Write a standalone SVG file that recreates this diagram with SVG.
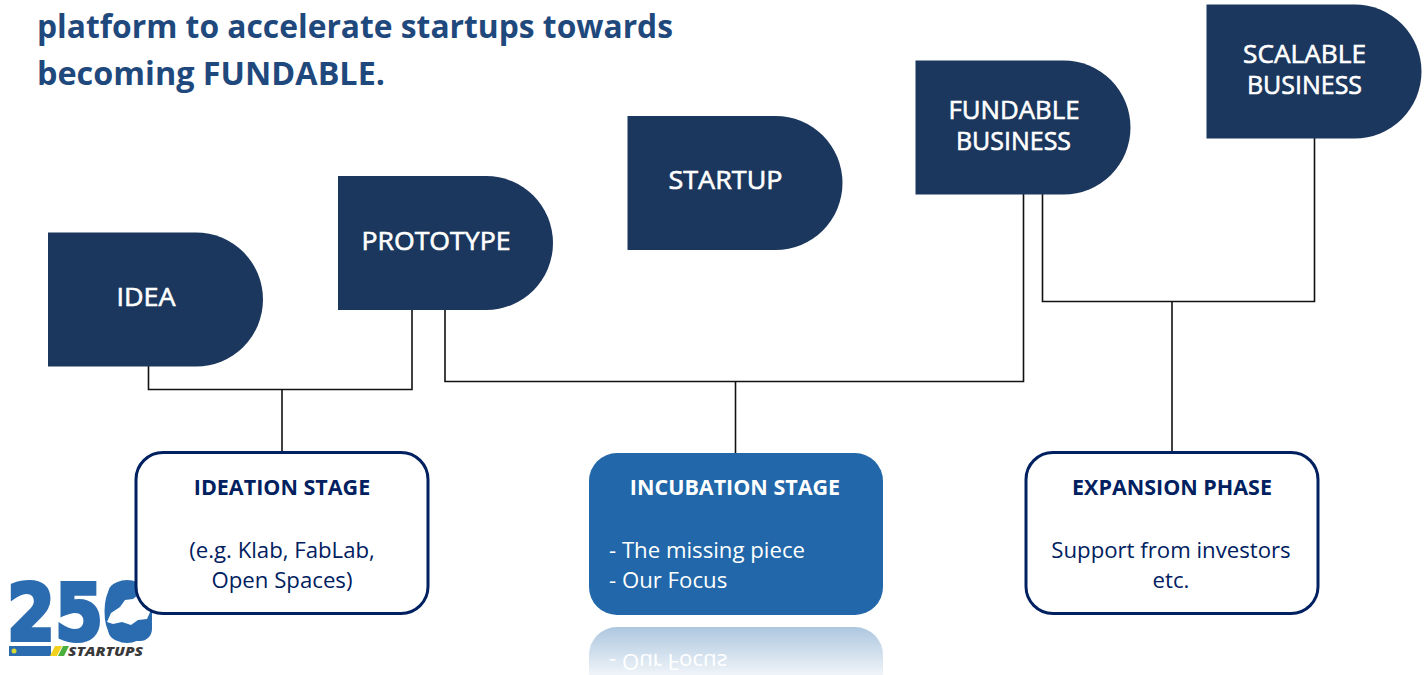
<svg xmlns="http://www.w3.org/2000/svg" width="1426" height="675" viewBox="0 0 1426 675">
<style>
text{font-family:"Open Sans","Noto Sans","Liberation Sans",sans-serif}
.title{font-size:32.5px;font-weight:700;fill:#1f497d}
.shape{fill:#1b375d}
.sl{font-size:26px;fill:#fff;text-anchor:middle;stroke:#fff;stroke-width:.6px}
.box{fill:#fff;stroke:#002060;stroke-width:3px}
.h{font-size:21.500px;font-weight:700;text-anchor:middle;fill:#002060}
.b{font-size:22.200px;text-anchor:middle;fill:#002060}
.wire{fill:none;stroke:#111;stroke-width:1.600px}
</style>
<defs>
<path id="d" d="M0 0H148a67 67 0 0 1 0 134H0Z"/>
<linearGradient id="fade" x1="0" y1="0" x2="0" y2="1"><stop offset="0" stop-color="#fff" stop-opacity=".62"/><stop offset="1" stop-color="#fff" stop-opacity=".93"/></linearGradient>
</defs>
<rect width="1426" height="675" fill="#fff"/>
<g id="title"><text class="title" x="37" y="38" textLength="636" lengthAdjust="spacingAndGlyphs">platform to accelerate startups towards</text><text class="title" x="37" y="85" textLength="348" lengthAdjust="spacingAndGlyphs">becoming FUNDABLE.</text></g>
<g id="connectors" class="wire">
<path d="M148.500 366V389.500H412V310"/><path d="M282 389.500V452"/>
<path d="M445 310V381.500H1023.500V194"/><path d="M735.500 381.500V454"/>
<path d="M1042.500 194V301.500H1314.500V138"/><path d="M1172 301.500V452"/>
</g>
<g id="idea"><use href="#d" class="shape" x="48" y="232.500"/><text class="sl" x="146" y="306" textLength="59" lengthAdjust="spacingAndGlyphs">IDEA</text></g>
<g id="prototype"><use href="#d" class="shape" x="338" y="176"/><text class="sl" x="436" y="250" textLength="149" lengthAdjust="spacingAndGlyphs">PROTOTYPE</text></g>
<g id="startup"><use href="#d" class="shape" x="627.500" y="116"/><text class="sl" x="725.500" y="189" textLength="114" lengthAdjust="spacingAndGlyphs">STARTUP</text></g>
<g id="fundable"><use href="#d" class="shape" x="915.500" y="60.500"/><text class="sl" x="1014" y="119" textLength="131" lengthAdjust="spacingAndGlyphs">FUNDABLE</text><text class="sl" x="1013.500" y="150" textLength="115" lengthAdjust="spacingAndGlyphs">BUSINESS</text></g>
<g id="scalable"><use href="#d" class="shape" x="1206.500" y="4.500"/><text class="sl" x="1304.500" y="63" textLength="123" lengthAdjust="spacingAndGlyphs">SCALABLE</text><text class="sl" x="1304.500" y="94" textLength="115" lengthAdjust="spacingAndGlyphs">BUSINESS</text></g>
<g id="logo">
<rect x="108" y="582" width="44" height="59" rx="12" fill="#2b6cb0"/>
<text x="7" y="640" font-size="78" font-weight="800" fill="#2b6cb0" stroke="#2b6cb0" stroke-width="4" textLength="144" lengthAdjust="spacingAndGlyphs" style="font-family:'DejaVu Sans',sans-serif">250</text>
<path d="M107 622l4-9 9-6 5-7 8-1 5-4 8 6 5 9-4 9-9 1-7 5-9-3-9 2z" fill="#fff"/>
<rect x="9" y="646" width="42" height="10" fill="#2b6cb0"/><circle cx="14" cy="651" r="2.500" fill="#d8d832"/>
<path d="M50 656l5-10h7l-5 10z" fill="#f2d21f"/><path d="M58 656l5-10h6l-5 10z" fill="#4caf3c"/>
<text x="68" y="655.500" font-size="12.500" font-weight="800" font-style="italic" fill="#3a3a3a" textLength="75" lengthAdjust="spacingAndGlyphs">STARTUPS</text>
</g>
<g id="ideation"><rect class="box" x="136" y="452.500" width="292" height="161" rx="27"/><text class="h" x="282" y="495">IDEATION STAGE</text><text class="b" x="282" y="558">(e.g. Klab, FabLab,</text><text class="b" x="282" y="588">Open Spaces)</text></g>
<g id="incubation"><rect x="589" y="453" width="294" height="162" rx="28" fill="#2167a9"/><text class="h" style="fill:#fff" x="735" y="495">INCUBATION STAGE</text><text class="b" style="fill:#fff;text-anchor:start" x="609" y="558">- The missing piece</text><text class="b" style="fill:#fff;text-anchor:start" x="609" y="588">- Our Focus</text></g>
<g id="reflection"><path d="M589 675V655a28 28 0 0 1 28-28H855a28 28 0 0 1 28 28V675Z" fill="#2167a9"/><text transform="translate(0 1242) scale(1 -1)" style="fill:#fff;font-size:22.200px" x="609" y="588">- Our Focus</text><rect x="585" y="625" width="302" height="50" fill="url(#fade)"/></g>
<g id="expansion"><rect class="box" x="1026" y="452.500" width="292" height="161" rx="27"/><text class="h" x="1172" y="495">EXPANSION PHASE</text><text class="b" x="1171" y="558">Support from investors</text><text class="b" x="1171" y="588">etc.</text></g>
</svg>
